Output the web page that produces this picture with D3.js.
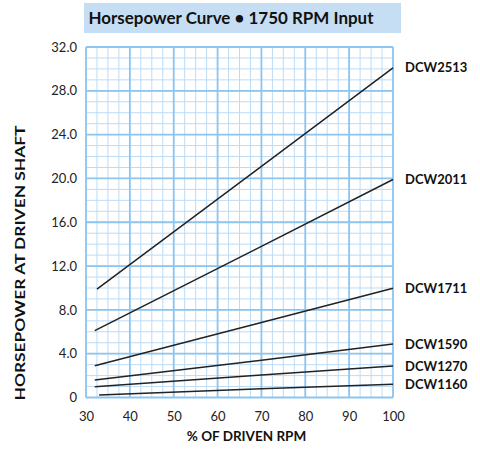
<!DOCTYPE html>
<html>
<head>
<meta charset="utf-8">
<script src="https://cdn.jsdelivr.net/npm/d3@7"></script>
<style>
  body { margin: 0; background: #fff; }
  svg { display: block; font-family: Lato, "Open Sans", sans-serif; }
</style>
</head>
<body>
<svg id="chart"></svg>
<script>
// data
const models = ["DCW2513", "DCW2011", "DCW1711", "DCW1590", "DCW1270", "DCW1160"];
const rpm = [
  [32.5, 70, 100],
  [32, 70, 100],
  [32, 70, 100],
  [32, 70, 100],
  [32, 70, 100],
  [33, 70, 100]
];
const hp = [
  [9.9, 21.1, 30.1],
  [6.1, 13.8, 19.9],
  [2.9, 6.85, 9.97],
  [1.6, 3.4, 4.89],
  [0.99, 2.06, 2.88],
  [0.23, 0.8, 1.2]
];
const xTicks = [30, 40, 50, 60, 70, 80, 90, 100];
const yTicks = [0, 4, 8, 12, 16, 20, 24, 28, 32];

const width = 480;
const height = 455;
const margin = { top: 47, right: 87, bottom: 57.5, left: 86 };

const svg = d3.select("#chart").attr("width", width).attr("height", height);

const x = d3.scaleLinear().domain([30, 100]).range([margin.left, width - margin.right]);
const y = d3.scaleLinear().domain([0, 32]).range([height - margin.bottom, margin.top]);

// title box
svg.append("rect")
  .attr("x", 84).attr("y", 3).attr("width", 317).attr("height", 30)
  .attr("fill", "#c6def4");
svg.append("text")
  .attr("x", 88.5).attr("y", 23.5)
  .attr("font-size", 17).attr("font-weight", "bold").attr("fill", "#111")
  .attr("textLength", 285).attr("lengthAdjust", "spacingAndGlyphs")
  .text("Horsepower Curve \u2022 1750 RPM Input");

// grid: minor first, then major
const minorX = d3.range(30, 100.01, 2.5);
const minorY = d3.range(0, 32.01, 1);
const grid = svg.append("g");

grid.selectAll("line.mx").data(minorX).enter().append("line")
  .attr("x1", d => x(d)).attr("x2", d => x(d))
  .attr("y1", y(0)).attr("y2", y(32))
  .attr("stroke", "#bcdcf6").attr("stroke-width", 1);
grid.selectAll("line.my").data(minorY).enter().append("line")
  .attr("y1", d => y(d)).attr("y2", d => y(d))
  .attr("x1", x(30)).attr("x2", x(100))
  .attr("stroke", "#bcdcf6").attr("stroke-width", 1);
grid.selectAll("line.Mx").data(xTicks).enter().append("line")
  .attr("x1", d => x(d)).attr("x2", d => x(d))
  .attr("y1", y(0)).attr("y2", y(32))
  .attr("stroke", "#8ec5ef").attr("stroke-width", 1.8);
grid.selectAll("line.My").data(yTicks).enter().append("line")
  .attr("y1", d => y(d)).attr("y2", d => y(d))
  .attr("x1", x(30)).attr("x2", x(100))
  .attr("stroke", "#8ec5ef").attr("stroke-width", 1.8);

// axes (labels only)
const xAxis = svg.append("g")
  .attr("transform", `translate(0,${y(0)})`)
  .call(d3.axisBottom(x).tickValues(xTicks).tickSize(0).tickPadding(14));
const yAxis = svg.append("g")
  .attr("transform", `translate(${x(30)},0)`)
  .call(d3.axisLeft(y).tickValues(yTicks).tickSize(0).tickPadding(9)
    .tickFormat(d => d === 0 ? "0" : d3.format(".1f")(d)));
[xAxis, yAxis].forEach(a => {
  a.select(".domain").remove();
  a.selectAll("text")
    .attr("font-family", "Lato, sans-serif")
    .attr("font-size", 13)
    .attr("fill", "#222");
});

// axis titles
svg.append("text")
  .attr("x", 246.5).attr("y", 441)
  .attr("text-anchor", "middle")
  .attr("font-size", 13.5).attr("font-weight", "bold").attr("fill", "#111")
  .text("% OF DRIVEN RPM");
svg.append("text")
  .attr("transform", "translate(25,263) rotate(-90)")
  .attr("text-anchor", "middle")
  .attr("font-size", 13.5).attr("font-weight", "bold").attr("fill", "#111")
  .attr("textLength", 275).attr("lengthAdjust", "spacingAndGlyphs")
  .text("HORSEPOWER AT DRIVEN SHAFT");

// curves
const line = d3.line().x(d => x(d[0])).y(d => y(d[1]));
models.forEach((m, i) => {
  const pts = rpm[i].map((r, j) => [r, hp[i][j]]);
  svg.append("path")
    .attr("d", line(pts))
    .attr("fill", "none")
    .attr("stroke", "#222")
    .attr("stroke-width", 1.5);

  svg.append("text")
    .attr("x", 405)
    .attr("y", y(hp[i][hp[i].length - 1]))
    .attr("dy", "0.36em")
    .attr("font-size", 13).attr("font-weight", "bold").attr("fill", "#111")
    .text(m);
});
</script>
</body>
</html>
